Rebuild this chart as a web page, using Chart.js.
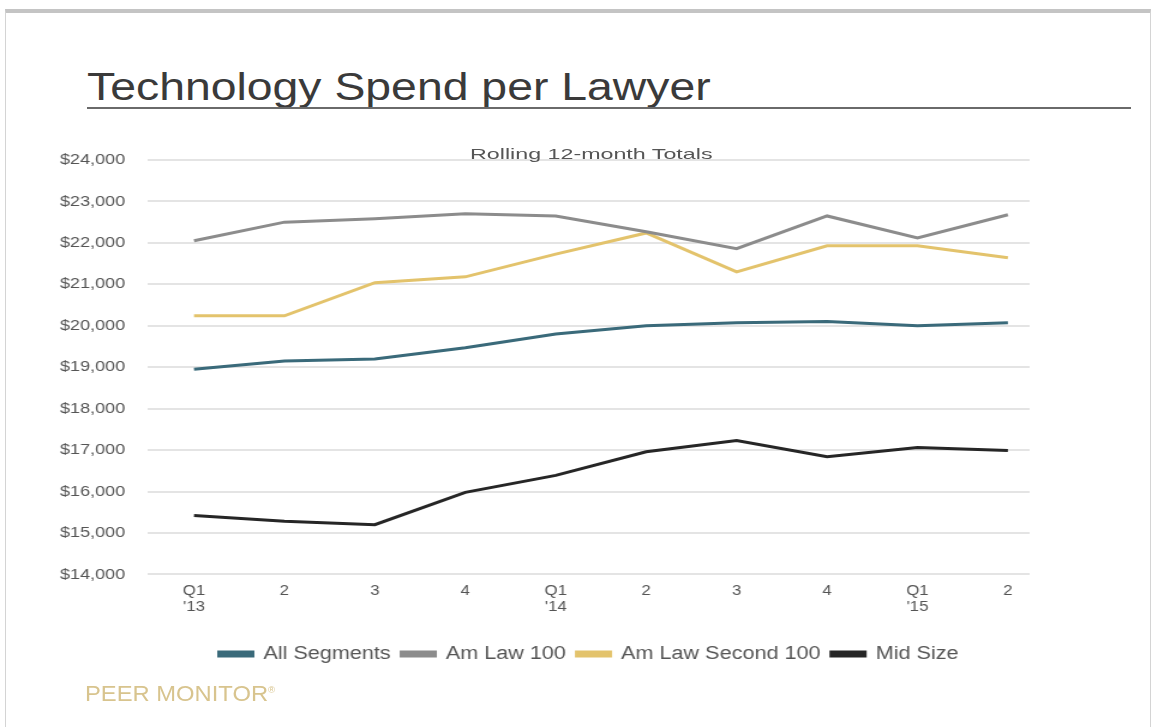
<!doctype html>
<html lang="en">
<head>
  <meta charset="utf-8">
  <title>Technology Spend per Lawyer</title>
  <script src="https://cdn.jsdelivr.net/npm/chart.js@4/dist/chart.umd.min.js"></script>
  <style>
    html, body { margin: 0; padding: 0; background: #fff; }
    body { width: 1156px; height: 727px; position: relative; overflow: hidden; font-family: "Liberation Sans", Arial, sans-serif; }
    .frame { position: absolute; left: 5px; top: 9px; width: 1144px; height: 740px; border: 1px solid #d4d4d4; border-top: 4px solid #c4c4c4; }
    .title { position: absolute; left: 87px; top: 66px; font-size: 38px; color: #3a3a3a; transform: scaleX(1.22); transform-origin: 0 0; white-space: nowrap; }
    .rule { position: absolute; left: 87px; top: 107px; width: 1044px; height: 2px; background: #6a6a6a; }
    .sub { position: absolute; left: 470px; top: 145px; font-size: 15px; color: #555; transform: scaleX(1.55); transform-origin: 0 0; white-space: nowrap; z-index: 2; }
    .brand { position: absolute; left: 85px; top: 681px; font-size: 22px; color: #d8c48e; transform: scaleX(1.08); transform-origin: 0 0; white-space: nowrap; }
    .brand sup { font-size: 9px; }
    /* the reference is stretched sideways, so the chart is drawn narrower and widened */
    #wrap { position: absolute; left: 0; top: 0; width: 963px; height: 727px; transform: scaleX(1.2); transform-origin: 0 0; }
  </style>
</head>
<body>
  <div class="frame"></div>
  <div class="title">Technology Spend per Lawyer</div>
  <div class="rule"></div>
  <div id="wrap"><canvas id="canvas"></canvas></div>
  <div class="sub">Rolling 12-month Totals</div>
  <div class="brand">PEER MONITOR<sup>®</sup></div>
  <script>
    var quarters = [["Q1", "'13"], "2", "3", "4", ["Q1", "'14"], "2", "3", "4", ["Q1", "'15"], "2"];

    var allSegments = [18950, 19150, 19200, 19470, 19800, 20000, 20070, 20100, 20000, 20070];
    var amLaw100 = [22050, 22500, 22580, 22700, 22650, 22270, 21860, 22650, 22120, 22680];
    var amLawSecond100 = [20240, 20240, 21040, 21180, 21730, 22240, 21300, 21930, 21930, 21640];
    var midSize = [15420, 15280, 15200, 15980, 16390, 16960, 17230, 16840, 17060, 16990];

    function serie(label, data, color) {
      return {
        label: label,
        // x is the quarter index, its label comes from quarters
        data: data.map(function (v, i) { return { x: i, y: v }; }),
        borderColor: color,
        backgroundColor: color,
        borderWidth: 3,
        pointRadius: 0,
        tension: 0,
        fill: false
      };
    }

    var ctx = document.getElementById('canvas').getContext('2d');
    var grafico = new Chart(ctx, {
      type: 'line',
      data: {
        datasets: [
          serie('All Segments', allSegments, '#3a6a7a'),
          serie('Am Law 100', amLaw100, '#8c8c8c'),
          serie('Am Law Second 100', amLawSecond100, '#e3c36c'),
          serie('Mid Size', midSize, '#262626')
        ]
      },
      options: {
        responsive: true,
        maintainAspectRatio: false,
        animation: false,
        layout: { padding: { left: 31, right: 105, top: 160, bottom: 54 } },
        plugins: {
          tooltip: { enabled: false },
          legend: {
            position: 'bottom',
            fullSize: false,
            labels: {
              boxWidth: 28,
              boxHeight: 4,
              padding: 9,
              color: '#555',
              font: { family: 'Liberation Sans', size: 18 }
            }
          }
        },
        scales: {
          x: {
            type: 'linear',
            min: -0.51,
            max: 9.24,
            grid: { display: false },
            border: { display: false },
            afterBuildTicks: function (scale) {
              scale.ticks = quarters.map(function (q, i) { return { value: i }; });
            },
            ticks: {
              autoSkip: false,
              maxRotation: 0,
              padding: 0,
              color: '#555',
              font: { family: 'Liberation Sans', size: 14 },
              callback: function (v) { return quarters[v]; }
            },
            afterFit: function (scale) { scale.height += 20; }
          },
          y: {
            min: 14000,
            max: 24000,
            border: { display: false },
            grid: { color: '#e4e4e4', lineWidth: 2, drawTicks: false, tickLength: 0 },
            ticks: {
              stepSize: 1000,
              padding: 19,
              color: '#555',
              font: { family: 'Liberation Sans', size: 15 },
              callback: function (v) { return '$' + v.toLocaleString('en-US'); }
            }
          }
        }
      }
    });
  </script>
</body>
</html>
